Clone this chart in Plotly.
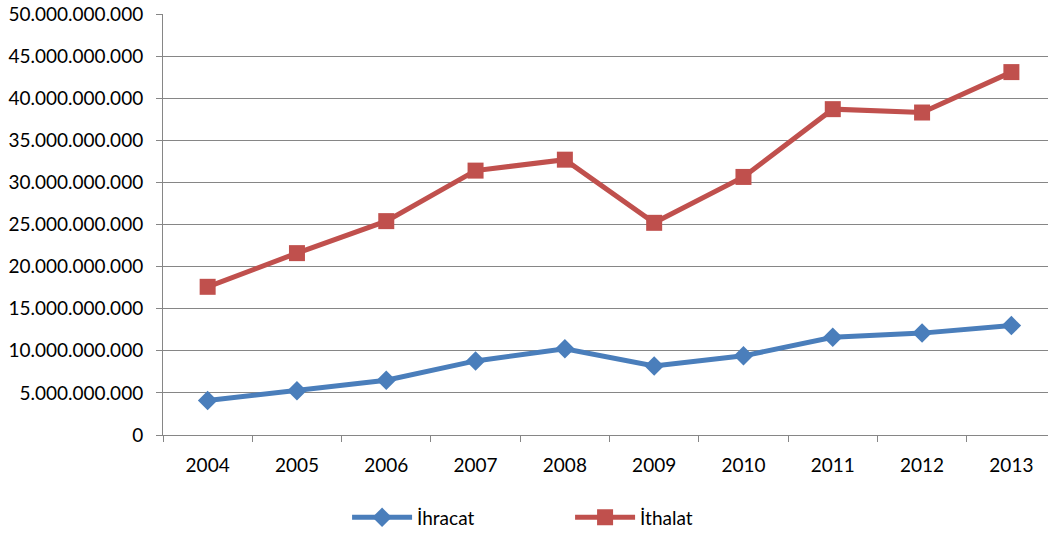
import plotly.graph_objects as go

years = ["2004", "2005", "2006", "2007", "2008", "2009", "2010", "2011", "2012", "2013"]
ihracat = [4.1e9, 5.25e9, 6.5e9, 8.8e9, 10.25e9, 8.2e9, 9.4e9, 11.6e9, 12.1e9, 13.0e9]
ithalat = [17.6e9, 21.6e9, 25.4e9, 31.4e9, 32.7e9, 25.2e9, 30.65e9, 38.7e9, 38.3e9, 43.1e9]
ytick_vals = [0, 5e9, 10e9, 15e9, 20e9, 25e9, 30e9, 35e9, 40e9, 45e9, 50e9]
ytick_text = ["0", "5.000.000.000", "10.000.000.000", "15.000.000.000", "20.000.000.000",
              "25.000.000.000", "30.000.000.000", "35.000.000.000", "40.000.000.000",
              "45.000.000.000", "50.000.000.000"]

FONT = "Lato, 'Open Sans', sans-serif"
FS = 19

fig = go.Figure()
fig.add_trace(go.Scatter(
    x=years, y=ihracat, name="İhracat", mode="lines+markers",
    line=dict(color="#4A7EBB", width=5),
    marker=dict(symbol="diamond", size=15, color="#4A7EBB"),
))
fig.add_trace(go.Scatter(
    x=years, y=ithalat, name="İthalat", mode="lines+markers",
    line=dict(color="#C0504D", width=5),
    marker=dict(symbol="square", size=16, color="#C0504D"),
))

fig.update_layout(
    width=1048, height=537,
    margin=dict(l=163, r=0, t=14, b=98),
    paper_bgcolor="white", plot_bgcolor="white",
    font=dict(family=FONT, size=FS, color="black"),
    showlegend=True,
    legend=dict(orientation="h", x=0.208, xanchor="left", y=-0.196, yanchor="middle",
                font=dict(family=FONT, size=FS, color="black"),
                entrywidth=148, itemwidth=60),
)
fig.update_xaxes(
    type="category", range=[-0.5, 9.41], automargin=False,
    showgrid=False, showline=True, linecolor="#868686", linewidth=1,
    ticks="outside", ticklen=6, tickcolor="#868686", tickson="boundaries",
    tickfont=dict(family=FONT, size=FS, color="black"),
    ticklabelstandoff=13,
)
fig.update_yaxes(
    range=[0, 50e9], tickvals=ytick_vals, ticktext=ytick_text, automargin=False,
    showgrid=True, gridcolor="#868686", gridwidth=1,
    showline=True, linecolor="#868686", linewidth=1,
    ticks="outside", ticklen=6, tickcolor="#868686",
    tickfont=dict(family=FONT, size=FS, color="black"),
    ticklabelstandoff=9, zeroline=False, ticklabeloverflow="allow",
)

fig.write_html(
    "out.html",
    config={"displayModeBar": False},
    post_script="document.body.style.margin='0';document.body.style.overflow='hidden';",
)
